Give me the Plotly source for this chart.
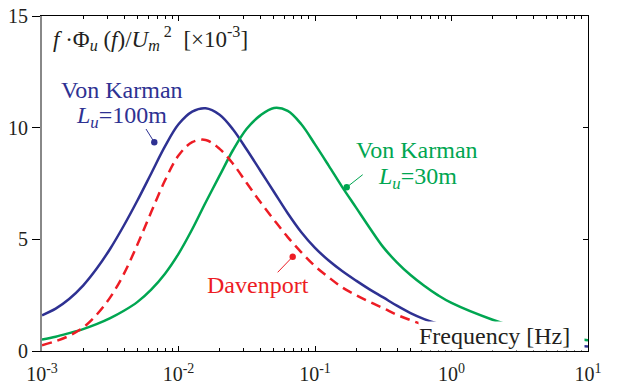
import plotly.graph_objects as go

# ---------------- data ----------------
freq = [0.001, 0.00126, 0.00158, 0.002, 0.00251, 0.00316, 0.00398, 0.00501, 0.00631, 0.00794,
        0.01, 0.0126, 0.0158, 0.02, 0.0251, 0.0316, 0.0398, 0.0501, 0.0631, 0.0794,
        0.1, 0.126, 0.158, 0.2, 0.251, 0.316, 0.398, 0.501, 0.631, 0.794,
        1.0, 2.0, 4.0, 10.0]

vk100 = [1.60, 1.90, 2.33, 2.93, 3.68, 4.58, 5.62, 6.75, 7.95, 9.15,
         10.15, 10.72, 10.87, 10.58, 9.92, 9.02, 8.07, 7.12, 6.17, 5.32,
         4.62, 4.05, 3.58, 3.15, 2.76, 2.40, 2.03, 1.70, 1.43, 1.22,
         1.05, 0.68, 0.42, 0.20]

vk30 = [0.51, 0.64, 0.80, 0.98, 1.20, 1.47, 1.80, 2.20, 2.75, 3.45,
        4.35, 5.45, 6.65, 7.85, 9.00, 9.95, 10.55, 10.88, 10.75, 10.15,
        9.25, 8.30, 7.35, 6.42, 5.52, 4.65, 3.97, 3.40, 2.92, 2.50,
        2.15, 1.40, 0.85, 0.48]

davenport = [0.26, 0.44, 0.68, 1.05, 1.62, 2.40, 3.45, 4.78, 6.22, 7.62,
             8.75, 9.35, 9.45, 9.05, 8.38, 7.52, 6.67, 5.87, 5.10, 4.42,
             3.80, 3.30, 2.85, 2.50, 2.20, 1.92, 1.62, 1.38, 1.16, 0.98,
             0.83, 0.52, 0.32, 0.15]

x_tickvals = [0.001, 0.01, 0.1, 1, 10]
x_ticktext = ["10<sup>-3</sup>", "10<sup>-2</sup>", "10<sup>-1</sup>", "10<sup>0</sup>", "10<sup>1</sup>"]
x_minor = [m * 10 ** e for e in range(-3, 1) for m in range(2, 10)]
y_tickvals = [0, 5, 10, 15]

# ---------------- styling ----------------
BLUE = "#2E3192"
GREEN = "#00A651"
RED = "#ED1C24"
FONT = "Liberation Serif, Times New Roman, serif"

L, R, T, B = 42, 32, 16, 36
W, H = 620, 387
PW, PH = W - L - R, H - T - B


def px(x):
    return (x - L) / PW


def py(y):
    return (H - B - y) / PH


fig = go.Figure()
fig.add_trace(go.Scatter(x=freq, y=vk100, mode="lines", line=dict(color=BLUE, width=2.5, shape="spline"),
                         name="Von Karman Lu=100m"))
fig.add_trace(go.Scatter(x=freq, y=vk30, mode="lines", line=dict(color=GREEN, width=2.5, shape="spline"),
                         name="Von Karman Lu=30m"))
fig.add_trace(go.Scatter(x=freq, y=davenport, mode="lines",
                         line=dict(color=RED, width=2.5, shape="spline", dash="10px,6px"), name="Davenport"))
fig.add_trace(go.Scatter(x=[0.001], y=[0], yaxis="y2", mode="markers", marker=dict(opacity=0),
                         showlegend=False, hoverinfo="skip"))

fig.update_layout(
    width=W, height=H,
    margin=dict(l=L, r=R, t=T, b=B, autoexpand=False),
    paper_bgcolor="white", plot_bgcolor="white",
    showlegend=False,
    font=dict(family=FONT, size=20, color="black"),
    xaxis=dict(type="log", range=[-3, 1], tickvals=x_tickvals, ticktext=x_ticktext, automargin=False,
               ticks="inside", ticklen=5, tickwidth=1, tickcolor="black", ticklabelstandoff=5,
               minor=dict(tickvals=x_minor, ticks="inside", ticklen=3, tickwidth=1, tickcolor="black"),
               showline=True, linecolor="black", linewidth=1, mirror="ticks",
               showgrid=False, zeroline=False, tickfont=dict(family=FONT, size=20, color="#231F20")),
    yaxis=dict(range=[0, 15], tickvals=y_tickvals, ticks="outside", ticklen=8, tickcolor="black",
               automargin=False,
               showline=True, linecolor="#888888", linewidth=2, showgrid=False, zeroline=False,
               tickfont=dict(family=FONT, size=20, color="#231F20")),
    yaxis2=dict(range=[0, 15], tickvals=y_tickvals, overlaying="y", side="right", ticks="inside",
                ticklen=5, tickcolor="black", showticklabels=False, showline=True, linecolor="black",
                linewidth=1, showgrid=False, zeroline=False, automargin=False),
)

NB = "\u00a0"


def label(x, y, text, color, size=24, **kw):
    d = dict(xref="paper", yref="paper", x=px(x), y=py(y), xanchor="center", yanchor="middle",
             text=text, showarrow=False, font=dict(family=FONT, size=size, color=color))
    d.update(kw)
    return d


ann = [
    label(51, 38, f"<i>f</i>{NB}·Φ<sub><i>u</i></sub>{NB}(<i>f</i>)/<i>U</i><sub><i>m</i></sub>"
                  f"<sup>{NB}2</sup>{NB}{NB}[×10<sup>-3</sup>]", "#231F20", size=23, xanchor="left"),
    label(121.5, 89.5, "Von Karman", BLUE),
    label(121, 117, "<i>L<sub>u</sub></i>=100m", BLUE),
    label(416.5, 150, "Von Karman", GREEN),
    label(417, 178, "<i>L<sub>u</sub></i>=30m", GREEN),
    label(258, 285, "Davenport", RED),
    label(418, 336, "Frequency [Hz]", "#231F20", xanchor="left", width=165, height=28, align="left",
          valign="middle", bgcolor="white", borderpad=0),
]
fig.update_layout(annotations=ann)

shapes = []
leaders = [((146, 129), (154.3, 142.3), BLUE),
           ((362.7, 174.7), (346.7, 187.3), GREEN),
           ((277.7, 272.3), (292.7, 256.7), RED)]
for (x0, y0), (x1, y1), c in leaders:
    shapes.append(dict(type="line", xref="paper", yref="paper", x0=px(x0), y0=py(y0), x1=px(x1), y1=py(y1),
                       line=dict(color=c, width=1)))
    r = 3.2
    shapes.append(dict(type="circle", xref="paper", yref="paper", x0=px(x1 - r), x1=px(x1 + r),
                       y0=py(y1 + r), y1=py(y1 - r), fillcolor=c, line=dict(color=c, width=0)))
fig.update_layout(shapes=shapes)

fig.write_html("out.html")
